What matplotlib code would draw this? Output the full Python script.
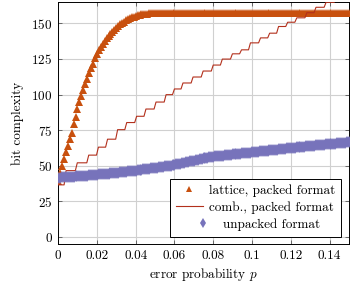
import matplotlib.pyplot as plt

# error probability grid (step 0.001)
p = [i / 1000 for i in range(151)]

# lattice, packed format
lattice = [
    39.0, 45.0, 50.0, 55.0, 59.5, 64.0, 68.5, 73.0, 79.0, 84.5,
    89.5, 95.0, 99.0, 103.0, 107.5, 111.0, 115.0, 118.5, 121.6, 125.5,
    128.5, 131.0, 133.5, 135.8, 137.8, 139.5, 141.0, 142.6, 144.0, 145.4,
    146.6, 148.3, 149.3, 150.3, 151.2, 152.1, 153.0, 153.7, 154.3, 154.8,
    155.3, 155.7, 156.0, 156.3, 156.5, 156.7, 156.9, 157.0, 157.1, 157.2,
    157.3, 157.3, 157.4, 157.4, 157.4, 157.4, 157.4, 157.4, 157.4, 157.4,
    157.4, 157.4, 157.4, 157.4, 157.4, 157.4, 157.4, 157.4, 157.4, 157.4,
    157.4, 157.4, 157.4, 157.4, 157.4, 157.4, 157.4, 157.4, 157.4, 157.4,
    157.4, 157.4, 157.4, 157.4, 157.4, 157.4, 157.4, 157.4, 157.4, 157.4,
    157.4, 157.4, 157.4, 157.4, 157.4, 157.4, 157.4, 157.4, 157.4, 157.4,
    157.4, 157.4, 157.4, 157.4, 157.4, 157.4, 157.4, 157.4, 157.4, 157.4,
    157.4, 157.4, 157.4, 157.4, 157.4, 157.4, 157.4, 157.4, 157.4, 157.4,
    157.4, 157.4, 157.4, 157.4, 157.4, 157.4, 157.4, 157.4, 157.4, 157.4,
    157.4, 157.4, 157.4, 157.4, 157.4, 157.4, 157.4, 157.4, 157.4, 157.4,
    157.4, 157.4, 157.4, 157.4, 157.4, 157.4, 157.4, 157.4, 157.4, 157.4,
    157.4,
]

# unpacked format
unpacked = [
    41.5, 41.6, 41.7, 41.8, 41.9, 42.0, 42.1, 42.2, 42.3, 42.4,
    42.5, 42.6, 42.7, 42.8, 42.9, 43.0, 43.2, 43.3, 43.4, 43.5,
    43.7, 43.8, 43.9, 44.0, 44.2, 44.3, 44.4, 44.6, 44.7, 44.8,
    45.0, 45.1, 45.3, 45.4, 45.6, 45.7, 45.9, 46.0, 46.2, 46.3,
    46.5, 46.7, 46.9, 47.1, 47.3, 47.5, 47.7, 47.9, 48.1, 48.3,
    48.5, 48.7, 48.9, 49.1, 49.3, 49.5, 49.7, 49.9, 50.1, 50.3,
    50.6, 50.9, 51.2, 51.5, 51.8, 52.1, 52.4, 52.7, 53.0, 53.3,
    53.6, 53.9, 54.2, 54.5, 54.8, 55.1, 55.4, 55.7, 55.9, 56.1,
    56.3, 56.5, 56.6, 56.8, 57.0, 57.1, 57.3, 57.4, 57.6, 57.7,
    57.9, 58.0, 58.2, 58.3, 58.5, 58.6, 58.8, 58.9, 59.1, 59.2,
    59.4, 59.5, 59.7, 59.8, 60.0, 60.1, 60.3, 60.4, 60.6, 60.7,
    60.9, 61.0, 61.2, 61.3, 61.5, 61.6, 61.8, 61.9, 62.1, 62.2,
    62.4, 62.5, 62.7, 62.8, 63.0, 63.1, 63.3, 63.4, 63.5, 63.7,
    63.8, 64.0, 64.1, 64.2, 64.4, 64.5, 64.6, 64.8, 64.9, 65.0,
    65.2, 65.3, 65.4, 65.5, 65.7, 65.8, 65.9, 66.0, 66.2, 66.3,
    66.4,
]

# comb., packed format: staircase corners (each riser spans one 0.001 step)
comb_p = [0.0, 0.0031, 0.0041, 0.0089, 0.0099, 0.0148, 0.0158, 0.0198, 0.0208,
          0.0245, 0.0255, 0.0297, 0.0307, 0.0344, 0.0354, 0.0395, 0.0405,
          0.0443, 0.0453, 0.0495, 0.0505, 0.0547, 0.0557, 0.0590, 0.0600,
          0.0634, 0.0644, 0.0686, 0.0696, 0.0738, 0.0748, 0.0790, 0.0800,
          0.0837, 0.0847, 0.0889, 0.0899, 0.0936, 0.0946, 0.0982, 0.0992,
          0.1034, 0.1044, 0.1081, 0.1091, 0.1127, 0.1137, 0.1174, 0.1184,
          0.1221, 0.1231, 0.1273, 0.1283, 0.1320, 0.1330, 0.1372, 0.1382,
          0.1424, 0.1434, 0.15]
comb = [36.5, 36.5, 46.5, 46.5, 52.0, 52.0, 57.4, 57.4, 63.0,
        63.0, 68.6, 68.6, 75.3, 75.3, 80.3, 80.3, 84.7,
        84.7, 89.8, 89.8, 94.7, 94.7, 99.9, 99.9, 103.9,
        103.9, 108.1, 108.1, 112.3, 112.3, 116.5, 116.5, 120.7,
        120.7, 124.9, 124.9, 128.6, 128.6, 131.4, 131.4, 136.3,
        136.3, 139.8, 139.8, 143.1, 143.1, 147.8, 147.8, 150.8,
        150.8, 153.9, 153.9, 157.5, 157.5, 161.3, 161.3, 164.8,
        164.8, 168.0, 168.0]

xticks = [0, 0.02, 0.04, 0.06, 0.08, 0.1, 0.12, 0.14]
xtick_labels = ['0', '0.02', '0.04', '0.06', '0.08', '0.1', '0.12', '0.14']
yticks = [0, 25, 50, 75, 100, 125, 150]

plt.rcParams['font.family'] = 'serif'
plt.rcParams['font.serif'] = ['cmr10']
plt.rcParams['mathtext.fontset'] = 'cm'
plt.rcParams['axes.formatter.use_mathtext'] = True

c_lat = '#c8500e'
c_comb = '#b3301c'
c_unp = '#7773bb'

fig = plt.figure(figsize=(3.5, 2.89), dpi=100)
ax = fig.add_axes([0.166, 0.156, 0.831, 0.837])

ax.plot(p, lattice, linestyle='none', marker='^', markersize=5.6,
        markeredgewidth=0, color=c_lat, label='lattice, packed format', zorder=3)
ax.plot(comb_p, comb, color=c_comb, linewidth=0.8,
        label='comb., packed format', zorder=3)
ax.plot(p, unpacked, linestyle='none', marker='d', markersize=6.0,
        markeredgewidth=0, color=c_unp, label='unpacked format', zorder=4)

ax.set_xlim(0, 0.15)
ax.set_ylim(-5, 165)
ax.set_xticks(xticks)
ax.set_xticklabels(xtick_labels)
ax.set_yticks(yticks)
ax.tick_params(direction='in', length=3, width=0.6, color='#555555',
               top=True, right=True, labelsize=9.5, pad=4)
ax.grid(True, color='#d0d0d0', linewidth=0.8)
ax.set_axisbelow(True)
for s in ax.spines.values():
    s.set_linewidth(0.7)

ax.set_xlabel('error probability $p$', fontsize=9.5, labelpad=3)
ax.set_ylabel('bit complexity', fontsize=9.5, labelpad=5)

leg = ax.legend(loc='lower right', bbox_to_anchor=(0.972, 0.03), fontsize=9.5,
                frameon=True, fancybox=False, edgecolor='black', framealpha=1,
                handlelength=2.0, handletextpad=0.5, labelspacing=0.32,
                borderpad=0.45, borderaxespad=0, markerscale=0.8)
leg.get_frame().set_linewidth(0.7)
# center each legend row like pgfplots does
for col in leg._legend_box.get_children()[1].get_children():
    col.align = 'center'

plt.savefig('out.png', dpi=100)
